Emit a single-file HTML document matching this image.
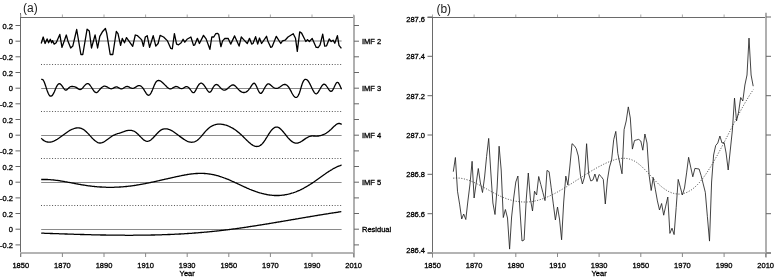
<!DOCTYPE html>
<html><head><meta charset="utf-8"><title>EMD decomposition</title>
<style>
html,body{margin:0;padding:0;background:#fff;}
body{width:774px;height:277px;overflow:hidden;}
svg{display:block;font-family:"Liberation Sans",sans-serif;will-change:transform;}
.lb{font-size:7.5px;fill:#000;stroke:#000;stroke-width:0.3px;}
.tt{font-size:12px;fill:#222;}
</style></head><body>
<svg width="774" height="277" viewBox="0 0 774 277">
<rect x="0" y="0" width="774" height="277" fill="#fff"/>
<g id="pa">
<line x1="20.5" y1="13" x2="20.5" y2="257" stroke="#6a6a6a" stroke-width="1"/>
<line x1="20" y1="17.5" x2="354.5" y2="17.5" stroke="#6a6a6a" stroke-width="1"/>
<line x1="20" y1="253" x2="354.5" y2="253" stroke="#b4b4b4" stroke-width="2"/>
<line x1="354" y1="15.2" x2="354" y2="257.5" stroke="#b0b0b0" stroke-width="2"/>
<line x1="20.8" y1="253" x2="20.8" y2="257" stroke="#888" stroke-width="1"/>
<line x1="20.8" y1="17" x2="20.8" y2="14.5" stroke="#aaa" stroke-width="1"/>
<text class="lb" x="20.8" y="268" text-anchor="middle">1850</text>
<line x1="62.4" y1="253" x2="62.4" y2="257" stroke="#888" stroke-width="1"/>
<line x1="62.4" y1="17" x2="62.4" y2="14.5" stroke="#aaa" stroke-width="1"/>
<text class="lb" x="62.4" y="268" text-anchor="middle">1870</text>
<line x1="104.0" y1="253" x2="104.0" y2="257" stroke="#888" stroke-width="1"/>
<line x1="104.0" y1="17" x2="104.0" y2="14.5" stroke="#aaa" stroke-width="1"/>
<text class="lb" x="104.0" y="268" text-anchor="middle">1890</text>
<line x1="145.6" y1="253" x2="145.6" y2="257" stroke="#888" stroke-width="1"/>
<line x1="145.6" y1="17" x2="145.6" y2="14.5" stroke="#aaa" stroke-width="1"/>
<text class="lb" x="145.6" y="268" text-anchor="middle">1910</text>
<line x1="187.2" y1="253" x2="187.2" y2="257" stroke="#888" stroke-width="1"/>
<line x1="187.2" y1="17" x2="187.2" y2="14.5" stroke="#aaa" stroke-width="1"/>
<text class="lb" x="187.2" y="268" text-anchor="middle">1930</text>
<line x1="228.8" y1="253" x2="228.8" y2="257" stroke="#888" stroke-width="1"/>
<line x1="228.8" y1="17" x2="228.8" y2="14.5" stroke="#aaa" stroke-width="1"/>
<text class="lb" x="228.8" y="268" text-anchor="middle">1950</text>
<line x1="270.4" y1="253" x2="270.4" y2="257" stroke="#888" stroke-width="1"/>
<line x1="270.4" y1="17" x2="270.4" y2="14.5" stroke="#aaa" stroke-width="1"/>
<text class="lb" x="270.4" y="268" text-anchor="middle">1970</text>
<line x1="312.0" y1="253" x2="312.0" y2="257" stroke="#888" stroke-width="1"/>
<line x1="312.0" y1="17" x2="312.0" y2="14.5" stroke="#aaa" stroke-width="1"/>
<text class="lb" x="312.0" y="268" text-anchor="middle">1990</text>
<line x1="353.6" y1="253" x2="353.6" y2="257" stroke="#888" stroke-width="1"/>
<line x1="353.6" y1="17" x2="353.6" y2="14.5" stroke="#aaa" stroke-width="1"/>
<text class="lb" x="353.6" y="268" text-anchor="middle">2010</text>
<text class="lb" x="187.2" y="276" text-anchor="middle">Year</text>
<line x1="15.5" y1="25.5" x2="20.5" y2="25.5" stroke="#666" stroke-width="1"/>
<line x1="354" y1="25.5" x2="359" y2="25.5" stroke="#666" stroke-width="1"/>
<text class="lb" x="13" y="28.6" text-anchor="end">0.2</text>
<line x1="15.5" y1="41.2" x2="20.5" y2="41.2" stroke="#666" stroke-width="1"/>
<line x1="354" y1="41.2" x2="359" y2="41.2" stroke="#666" stroke-width="1"/>
<text class="lb" x="13" y="44.3" text-anchor="end">0</text>
<line x1="15.5" y1="56.8" x2="20.5" y2="56.8" stroke="#666" stroke-width="1"/>
<line x1="354" y1="56.8" x2="359" y2="56.8" stroke="#666" stroke-width="1"/>
<text class="lb" x="13" y="59.9" text-anchor="end">-0.2</text>
<line x1="15.5" y1="72.5" x2="20.5" y2="72.5" stroke="#666" stroke-width="1"/>
<line x1="354" y1="72.5" x2="359" y2="72.5" stroke="#666" stroke-width="1"/>
<text class="lb" x="13" y="75.6" text-anchor="end">0.2</text>
<line x1="15.5" y1="88.2" x2="20.5" y2="88.2" stroke="#666" stroke-width="1"/>
<line x1="354" y1="88.2" x2="359" y2="88.2" stroke="#666" stroke-width="1"/>
<text class="lb" x="13" y="91.3" text-anchor="end">0</text>
<line x1="15.5" y1="103.8" x2="20.5" y2="103.8" stroke="#666" stroke-width="1"/>
<line x1="354" y1="103.8" x2="359" y2="103.8" stroke="#666" stroke-width="1"/>
<text class="lb" x="13" y="106.9" text-anchor="end">-0.2</text>
<line x1="15.5" y1="119.5" x2="20.5" y2="119.5" stroke="#666" stroke-width="1"/>
<line x1="354" y1="119.5" x2="359" y2="119.5" stroke="#666" stroke-width="1"/>
<text class="lb" x="13" y="122.6" text-anchor="end">0.2</text>
<line x1="15.5" y1="135.2" x2="20.5" y2="135.2" stroke="#666" stroke-width="1"/>
<line x1="354" y1="135.2" x2="359" y2="135.2" stroke="#666" stroke-width="1"/>
<text class="lb" x="13" y="138.3" text-anchor="end">0</text>
<line x1="15.5" y1="150.9" x2="20.5" y2="150.9" stroke="#666" stroke-width="1"/>
<line x1="354" y1="150.9" x2="359" y2="150.9" stroke="#666" stroke-width="1"/>
<text class="lb" x="13" y="154.0" text-anchor="end">-0.2</text>
<line x1="15.5" y1="166.5" x2="20.5" y2="166.5" stroke="#666" stroke-width="1"/>
<line x1="354" y1="166.5" x2="359" y2="166.5" stroke="#666" stroke-width="1"/>
<text class="lb" x="13" y="169.6" text-anchor="end">0.2</text>
<line x1="15.5" y1="182.2" x2="20.5" y2="182.2" stroke="#666" stroke-width="1"/>
<line x1="354" y1="182.2" x2="359" y2="182.2" stroke="#666" stroke-width="1"/>
<text class="lb" x="13" y="185.3" text-anchor="end">0</text>
<line x1="15.5" y1="197.9" x2="20.5" y2="197.9" stroke="#666" stroke-width="1"/>
<line x1="354" y1="197.9" x2="359" y2="197.9" stroke="#666" stroke-width="1"/>
<text class="lb" x="13" y="201.0" text-anchor="end">-0.2</text>
<line x1="15.5" y1="213.5" x2="20.5" y2="213.5" stroke="#666" stroke-width="1"/>
<line x1="354" y1="213.5" x2="359" y2="213.5" stroke="#666" stroke-width="1"/>
<text class="lb" x="13" y="216.6" text-anchor="end">0.2</text>
<line x1="15.5" y1="229.2" x2="20.5" y2="229.2" stroke="#666" stroke-width="1"/>
<line x1="354" y1="229.2" x2="359" y2="229.2" stroke="#666" stroke-width="1"/>
<text class="lb" x="13" y="232.3" text-anchor="end">0</text>
<line x1="15.5" y1="244.9" x2="20.5" y2="244.9" stroke="#666" stroke-width="1"/>
<line x1="354" y1="244.9" x2="359" y2="244.9" stroke="#666" stroke-width="1"/>
<text class="lb" x="13" y="248.0" text-anchor="end">-0.2</text>
<line x1="41.2" y1="41.0" x2="341.6" y2="41.0" stroke="#7a7a7a" stroke-width="1"/>
<text class="lb" x="362" y="43.9">IMF 2</text>
<line x1="41" y1="64.5" x2="342" y2="64.5" stroke="#555" stroke-width="1" stroke-dasharray="1 1.77"/>
<line x1="41.2" y1="88.5" x2="341.6" y2="88.5" stroke="#8a8a8a" stroke-width="1"/>
<text class="lb" x="362" y="90.9">IMF 3</text>
<line x1="41" y1="111.5" x2="342" y2="111.5" stroke="#555" stroke-width="1" stroke-dasharray="1 1.77"/>
<line x1="41.2" y1="135.5" x2="341.6" y2="135.5" stroke="#8a8a8a" stroke-width="1"/>
<text class="lb" x="362" y="137.9">IMF 4</text>
<line x1="41" y1="158.5" x2="342" y2="158.5" stroke="#555" stroke-width="1" stroke-dasharray="1 1.77"/>
<line x1="41.2" y1="182.5" x2="341.6" y2="182.5" stroke="#8a8a8a" stroke-width="1"/>
<text class="lb" x="362" y="184.9">IMF 5</text>
<line x1="41" y1="205.5" x2="342" y2="205.5" stroke="#555" stroke-width="1" stroke-dasharray="1 1.77"/>
<line x1="41.2" y1="229.5" x2="341.6" y2="229.5" stroke="#8a8a8a" stroke-width="1"/>
<text class="lb" x="362" y="231.9">Residual</text>
<polyline points="41.2,43.5 43.2,37.0 45.1,43.5 47.1,38.9 48.6,42.8 50.3,39.3 51.6,42.8 52.5,40.6 54.2,44.1 56.2,42.8 59.8,34.4 62.0,47.4 66.3,35.0 67.9,40.9 70.7,48.0 72.8,46.1 76.7,29.5 80.9,54.5 82.8,54.5 87.1,29.2 89.3,31.1 91.5,48.0 95.1,35.0 97.6,48.0 99.8,36.3 102.4,31.8 105.4,28.5 106.7,33.1 110.2,54.5 112.8,54.5 116.3,31.5 118.0,33.7 120.6,45.4 122.3,38.5 124.5,42.8 126.5,37.6 132.7,46.3 135.3,35.0 137.5,35.7 140.8,38.9 141.8,40.2 143.4,46.3 145.3,37.0 147.2,35.7 149.6,47.4 153.2,35.7 155.8,46.1 158.1,43.5 160.1,35.4 163.6,37.0 167.5,40.9 170.8,48.4 172.3,48.9 174.4,33.7 176.6,44.1 178.6,44.8 181.2,42.8 183.1,39.3 184.8,42.2 187.0,39.3 190.9,37.0 193.5,45.4 194.8,44.8 197.4,38.3 199.4,43.5 203.5,35.4 206.1,38.9 209.9,49.3 211.8,37.0 213.8,37.0 215.7,33.7 217.7,33.4 218.7,34.4 220.9,46.7 222.6,40.9 224.8,38.5 228.1,38.3 230.7,44.1 234.6,35.9 239.1,46.1 241.3,37.0 243.7,39.6 247.3,43.5 249.5,38.3 251.7,44.1 253.0,43.5 255.6,36.7 257.7,44.1 259.5,38.0 261.6,43.5 266.5,36.3 267.8,40.9 270.8,47.4 272.1,46.7 276.3,36.3 280.8,43.5 282.5,40.9 285.1,40.2 288.0,37.0 293.2,33.7 295.5,38.3 297.3,51.3 299.7,31.8 301.6,33.1 304.2,38.3 305.8,41.5 307.5,39.6 309.4,41.5 312.2,38.4 316.2,47.4 318.3,47.5 320.1,44.8 322.7,34.1 324.7,46.1 326.6,45.8 329.2,38.9 331.2,41.5 333.1,40.2 334.8,43.2 337.4,35.7 339.0,45.4 341.4,48.4" fill="none" stroke="#000" stroke-width="1.3" stroke-linejoin="round"/>
<polyline points="41.2,79.4 41.9,79.3 42.6,79.5 43.3,80.2 44.0,81.5 44.7,83.2 45.4,85.2 46.1,87.4 46.8,89.6 47.5,91.6 48.2,93.3 48.9,94.6 49.6,95.6 50.3,96.1 51.0,96.2 51.7,95.9 52.4,95.3 53.1,94.2 53.8,92.9 54.5,91.4 55.2,89.8 55.9,88.1 56.6,86.6 57.3,85.3 58.0,84.4 58.7,83.8 59.4,83.6 60.1,83.8 60.8,84.4 61.5,85.2 62.2,86.2 62.9,87.2 63.6,88.2 64.3,89.1 65.0,89.8 65.7,90.1 66.4,90.0 67.1,89.6 67.8,88.9 68.5,88.2 69.2,87.5 69.9,87.0 70.6,86.7 71.3,86.5 72.0,86.5 72.7,86.5 73.4,86.6 74.1,86.7 74.8,86.8 75.5,87.1 76.2,87.4 76.9,87.9 77.6,88.4 78.3,88.9 79.0,89.3 79.7,89.5 80.4,89.5 81.1,89.3 81.8,88.8 82.5,88.1 83.2,87.3 83.9,86.4 84.6,85.6 85.3,84.9 86.0,84.2 86.7,83.8 87.4,83.6 88.1,83.6 88.8,84.0 89.5,84.6 90.2,85.5 90.9,86.5 91.6,87.5 92.3,88.6 93.0,89.7 93.7,90.7 94.4,91.5 95.1,92.2 95.8,92.5 96.5,92.6 97.2,92.3 97.9,91.7 98.6,90.9 99.3,90.1 100.0,89.3 100.7,88.5 101.4,87.8 102.1,87.2 102.8,86.8 103.5,86.4 104.2,86.2 104.9,86.2 105.6,86.3 106.3,86.6 107.0,86.9 107.7,87.3 108.4,87.7 109.1,88.1 109.8,88.5 110.5,88.7 111.2,88.8 111.9,88.7 112.6,88.5 113.3,88.1 114.0,87.7 114.7,87.4 115.4,87.1 116.1,86.9 116.8,86.9 117.5,87.2 118.2,87.5 118.9,87.9 119.6,88.2 120.3,88.6 121.0,88.8 121.7,88.8 122.4,88.6 123.1,88.3 123.8,87.9 124.5,87.5 125.2,87.0 125.9,86.7 126.6,86.5 127.3,86.5 128.0,86.6 128.7,86.9 129.4,87.2 130.1,87.6 130.8,87.9 131.5,88.2 132.2,88.4 132.9,88.4 133.6,88.2 134.3,87.9 135.0,87.5 135.7,87.1 136.4,86.6 137.1,86.2 137.8,85.9 138.5,85.6 139.2,85.6 139.9,85.7 140.6,86.0 141.3,86.4 142.0,87.1 142.7,87.8 143.4,88.8 144.1,89.9 144.8,91.1 145.5,92.2 146.2,93.3 146.9,94.3 147.6,94.9 148.3,95.3 149.0,95.2 149.7,94.8 150.4,93.9 151.1,92.8 151.8,91.4 152.5,89.8 153.2,88.0 153.9,86.3 154.6,84.6 155.3,83.2 156.0,82.0 156.7,81.2 157.4,80.7 158.1,80.5 158.8,80.5 159.5,80.6 160.2,80.9 160.9,81.3 161.6,81.8 162.3,82.4 163.0,83.0 163.7,83.7 164.4,84.4 165.1,85.1 165.8,85.8 166.5,86.5 167.2,87.2 167.9,87.7 168.6,88.2 169.3,88.6 170.0,88.8 170.7,88.8 171.4,88.6 172.1,88.3 172.8,87.9 173.5,87.5 174.2,87.1 174.9,86.8 175.6,86.5 176.3,86.5 177.0,86.7 177.7,86.9 178.4,87.3 179.1,87.7 179.8,88.1 180.5,88.4 181.2,88.6 181.9,88.6 182.6,88.4 183.3,88.1 184.0,87.7 184.7,87.3 185.4,86.9 186.1,86.6 186.8,86.6 187.5,86.8 188.2,87.2 188.9,87.8 189.6,88.6 190.3,89.5 191.0,90.5 191.7,91.5 192.4,92.2 193.1,92.7 193.8,92.7 194.5,92.2 195.2,91.2 195.9,89.9 196.6,88.5 197.3,87.1 198.0,85.8 198.7,84.8 199.4,84.0 200.1,83.5 200.8,83.2 201.5,83.2 202.2,83.5 202.9,84.0 203.6,84.7 204.3,85.6 205.0,86.6 205.7,87.7 206.4,88.7 207.1,89.8 207.8,90.8 208.5,91.7 209.2,92.2 209.9,92.3 210.6,91.8 211.3,90.8 212.0,89.6 212.7,88.2 213.4,87.0 214.1,86.0 214.8,85.2 215.5,84.7 216.2,84.5 216.9,84.6 217.6,84.9 218.3,85.4 219.0,86.1 219.7,86.9 220.4,87.7 221.1,88.4 221.8,89.0 222.5,89.5 223.2,89.9 223.9,90.1 224.6,90.1 225.3,90.0 226.0,89.7 226.7,89.2 227.4,88.7 228.1,88.1 228.8,87.5 229.5,86.8 230.2,86.2 230.9,85.7 231.6,85.2 232.3,85.0 233.0,84.9 233.7,85.0 234.4,85.4 235.1,85.9 235.8,86.6 236.5,87.3 237.2,88.1 237.9,88.9 238.6,89.6 239.3,90.3 240.0,90.9 240.7,91.4 241.4,91.9 242.1,92.2 242.8,92.4 243.5,92.5 244.2,92.5 244.9,92.4 245.6,92.2 246.3,91.9 247.0,91.4 247.7,90.8 248.4,90.1 249.1,89.2 249.8,88.3 250.5,87.3 251.2,86.2 251.9,85.2 252.6,84.2 253.3,83.5 254.0,83.2 254.7,83.4 255.4,84.3 256.1,85.5 256.8,87.0 257.5,88.7 258.2,90.2 258.9,91.6 259.6,92.7 260.3,93.3 261.0,93.4 261.7,92.9 262.4,92.0 263.1,90.8 263.8,89.5 264.5,88.2 265.2,87.0 265.9,85.9 266.6,85.0 267.3,84.3 268.0,83.9 268.7,83.9 269.4,84.1 270.1,84.6 270.8,85.2 271.5,85.8 272.2,86.4 272.9,87.0 273.6,87.5 274.3,87.9 275.0,88.2 275.7,88.3 276.4,88.4 277.1,88.3 277.8,88.1 278.5,87.8 279.2,87.4 279.9,87.0 280.6,86.5 281.3,86.0 282.0,85.5 282.7,85.0 283.4,84.7 284.1,84.5 284.8,84.4 285.5,84.5 286.2,84.8 286.9,85.2 287.6,85.9 288.3,86.7 289.0,87.7 289.7,88.9 290.4,90.1 291.1,91.4 291.8,92.8 292.5,94.0 293.2,95.1 293.9,96.1 294.6,96.9 295.3,97.3 296.0,97.5 296.7,97.3 297.4,96.7 298.1,95.8 298.8,94.4 299.5,92.7 300.2,90.5 300.9,88.1 301.6,85.7 302.3,83.6 303.0,81.9 303.7,80.7 304.4,79.8 305.1,79.4 305.8,79.3 306.5,79.5 307.2,80.0 307.9,80.7 308.6,81.7 309.3,82.8 310.0,84.1 310.7,85.5 311.4,87.0 312.1,88.5 312.8,89.9 313.5,91.2 314.2,92.3 314.9,93.2 315.6,93.7 316.3,93.8 317.0,93.5 317.7,92.8 318.4,91.9 319.1,90.7 319.8,89.5 320.5,88.2 321.2,87.0 321.9,85.9 322.6,85.0 323.3,84.4 324.0,84.2 324.7,84.4 325.4,84.8 326.1,85.5 326.8,86.5 327.5,87.5 328.2,88.6 328.9,89.7 329.6,90.6 330.3,91.2 331.0,91.5 331.7,91.2 332.4,90.5 333.1,89.4 333.8,88.0 334.5,86.5 335.2,85.0 335.9,83.7 336.6,82.7 337.3,82.3 338.0,82.5 338.7,83.3 339.4,84.5 340.1,85.9 340.8,87.4 341.5,89.0 341.6,89.2" fill="none" stroke="#000" stroke-width="1.3" stroke-linejoin="round"/>
<polyline points="41.2,138.2 41.9,138.9 42.6,139.6 43.3,140.1 44.0,140.6 44.7,141.0 45.4,141.4 46.1,141.7 46.8,141.9 47.5,142.0 48.2,142.1 48.9,142.2 49.6,142.1 50.3,142.1 51.0,142.0 51.7,141.8 52.4,141.6 53.1,141.3 53.8,141.1 54.5,140.7 55.2,140.4 55.9,140.0 56.6,139.6 57.3,139.2 58.0,138.7 58.7,138.3 59.4,137.8 60.1,137.3 60.8,136.8 61.5,136.3 62.2,135.7 62.9,135.2 63.6,134.7 64.3,134.2 65.0,133.7 65.7,133.2 66.4,132.7 67.1,132.2 67.8,131.7 68.5,131.3 69.2,130.8 69.9,130.4 70.6,130.0 71.3,129.7 72.0,129.3 72.7,129.0 73.4,128.8 74.1,128.5 74.8,128.3 75.5,128.1 76.2,128.0 76.9,127.9 77.6,127.9 78.3,127.9 79.0,127.9 79.7,128.0 80.4,128.2 81.1,128.4 81.8,128.7 82.5,129.0 83.2,129.4 83.9,129.8 84.6,130.3 85.3,130.9 86.0,131.5 86.7,132.2 87.4,132.9 88.1,133.6 88.8,134.3 89.5,135.1 90.2,135.9 90.9,136.6 91.6,137.4 92.3,138.2 93.0,138.9 93.7,139.6 94.4,140.2 95.1,140.8 95.8,141.3 96.5,141.8 97.2,142.2 97.9,142.6 98.6,142.8 99.3,143.0 100.0,143.0 100.7,143.0 101.4,142.8 102.1,142.7 102.8,142.4 103.5,142.1 104.2,141.7 104.9,141.3 105.6,140.8 106.3,140.3 107.0,139.8 107.7,139.3 108.4,138.7 109.1,138.2 109.8,137.7 110.5,137.1 111.2,136.7 111.9,136.2 112.6,135.8 113.3,135.4 114.0,135.1 114.7,134.8 115.4,134.5 116.1,134.2 116.8,134.0 117.5,133.7 118.2,133.5 118.9,133.3 119.6,133.1 120.3,132.8 121.0,132.6 121.7,132.3 122.4,132.1 123.1,131.8 123.8,131.6 124.5,131.3 125.2,131.1 125.9,130.9 126.6,130.7 127.3,130.6 128.0,130.4 128.7,130.3 129.4,130.3 130.1,130.3 130.8,130.3 131.5,130.4 132.2,130.6 132.9,130.8 133.6,131.0 134.3,131.3 135.0,131.7 135.7,132.2 136.4,132.8 137.1,133.4 137.8,134.0 138.5,134.7 139.2,135.4 139.9,136.2 140.6,136.9 141.3,137.6 142.0,138.3 142.7,139.0 143.4,139.6 144.1,140.1 144.8,140.5 145.5,140.9 146.2,141.2 146.9,141.3 147.6,141.3 148.3,141.2 149.0,141.0 149.7,140.6 150.4,140.2 151.1,139.7 151.8,139.1 152.5,138.5 153.2,137.8 153.9,137.0 154.6,136.3 155.3,135.5 156.0,134.7 156.7,133.9 157.4,133.2 158.1,132.5 158.8,131.8 159.5,131.2 160.2,130.6 160.9,130.1 161.6,129.7 162.3,129.4 163.0,129.1 163.7,129.0 164.4,128.8 165.1,128.8 165.8,128.8 166.5,128.8 167.2,128.9 167.9,129.1 168.6,129.3 169.3,129.5 170.0,129.8 170.7,130.1 171.4,130.5 172.1,130.9 172.8,131.3 173.5,131.7 174.2,132.2 174.9,132.7 175.6,133.2 176.3,133.7 177.0,134.2 177.7,134.8 178.4,135.3 179.1,135.8 179.8,136.4 180.5,136.9 181.2,137.4 181.9,137.9 182.6,138.4 183.3,138.9 184.0,139.4 184.7,139.8 185.4,140.2 186.1,140.6 186.8,141.0 187.5,141.3 188.2,141.6 188.9,141.8 189.6,142.0 190.3,142.1 191.0,142.2 191.7,142.3 192.4,142.2 193.1,142.2 193.8,142.0 194.5,141.8 195.2,141.5 195.9,141.2 196.6,140.8 197.3,140.3 198.0,139.7 198.7,139.1 199.4,138.4 200.1,137.6 200.8,136.9 201.5,136.1 202.2,135.3 202.9,134.4 203.6,133.6 204.3,132.8 205.0,131.9 205.7,131.1 206.4,130.4 207.1,129.7 207.8,129.0 208.5,128.4 209.2,127.8 209.9,127.3 210.6,126.8 211.3,126.4 212.0,126.0 212.7,125.6 213.4,125.3 214.1,125.0 214.8,124.8 215.5,124.6 216.2,124.4 216.9,124.3 217.6,124.2 218.3,124.2 219.0,124.1 219.7,124.1 220.4,124.1 221.1,124.2 221.8,124.3 222.5,124.4 223.2,124.5 223.9,124.6 224.6,124.8 225.3,125.0 226.0,125.2 226.7,125.4 227.4,125.7 228.1,126.0 228.8,126.2 229.5,126.6 230.2,126.9 230.9,127.3 231.6,127.6 232.3,128.0 233.0,128.4 233.7,128.9 234.4,129.3 235.1,129.8 235.8,130.3 236.5,130.8 237.2,131.4 237.9,131.9 238.6,132.5 239.3,133.1 240.0,133.7 240.7,134.3 241.4,134.9 242.1,135.6 242.8,136.3 243.5,137.0 244.2,137.7 244.9,138.4 245.6,139.1 246.3,139.8 247.0,140.5 247.7,141.1 248.4,141.8 249.1,142.4 249.8,143.0 250.5,143.6 251.2,144.2 251.9,144.6 252.6,145.1 253.3,145.5 254.0,145.8 254.7,146.1 255.4,146.3 256.1,146.4 256.8,146.5 257.5,146.4 258.2,146.3 258.9,146.1 259.6,145.8 260.3,145.4 261.0,144.9 261.7,144.3 262.4,143.6 263.1,142.8 263.8,141.8 264.5,140.8 265.2,139.8 265.9,138.7 266.6,137.6 267.3,136.5 268.0,135.3 268.7,134.2 269.4,133.1 270.1,132.1 270.8,131.1 271.5,130.2 272.2,129.4 272.9,128.8 273.6,128.2 274.3,127.7 275.0,127.4 275.7,127.2 276.4,127.1 277.1,127.1 277.8,127.2 278.5,127.5 279.2,127.9 279.9,128.4 280.6,129.0 281.3,129.7 282.0,130.4 282.7,131.2 283.4,132.0 284.1,132.9 284.8,133.7 285.5,134.6 286.2,135.5 286.9,136.4 287.6,137.3 288.3,138.1 289.0,138.8 289.7,139.6 290.4,140.2 291.1,140.9 291.8,141.4 292.5,141.9 293.2,142.3 293.9,142.7 294.6,142.9 295.3,143.1 296.0,143.2 296.7,143.2 297.4,143.1 298.1,143.0 298.8,142.7 299.5,142.5 300.2,142.1 300.9,141.7 301.6,141.3 302.3,140.9 303.0,140.4 303.7,139.9 304.4,139.4 305.1,138.9 305.8,138.4 306.5,138.0 307.2,137.6 307.9,137.2 308.6,136.8 309.3,136.5 310.0,136.3 310.7,136.1 311.4,136.0 312.1,135.9 312.8,135.9 313.5,136.0 314.2,136.0 314.9,136.0 315.6,136.1 316.3,136.1 317.0,136.1 317.7,136.0 318.4,136.0 319.1,135.9 319.8,135.7 320.5,135.6 321.2,135.4 321.9,135.2 322.6,134.9 323.3,134.6 324.0,134.3 324.7,134.0 325.4,133.6 326.1,133.2 326.8,132.7 327.5,132.3 328.2,131.7 328.9,131.2 329.6,130.6 330.3,130.0 331.0,129.4 331.7,128.7 332.4,128.0 333.1,127.3 333.8,126.6 334.5,126.0 335.2,125.4 335.9,124.8 336.6,124.3 337.3,123.9 338.0,123.6 338.7,123.5 339.4,123.4 340.1,123.6 340.8,123.9 341.5,124.4 341.6,124.4" fill="none" stroke="#000" stroke-width="1.3" stroke-linejoin="round"/>
<polyline points="41.2,179.5 41.9,179.5 42.6,179.5 43.3,179.5 44.0,179.5 44.7,179.5 45.4,179.5 46.1,179.5 46.8,179.5 47.5,179.5 48.2,179.6 48.9,179.6 49.6,179.7 50.3,179.7 51.0,179.8 51.7,179.8 52.4,179.9 53.1,179.9 53.8,180.0 54.5,180.1 55.2,180.2 55.9,180.3 56.6,180.4 57.3,180.4 58.0,180.5 58.7,180.6 59.4,180.7 60.1,180.9 60.8,181.0 61.5,181.1 62.2,181.2 62.9,181.3 63.6,181.4 64.3,181.5 65.0,181.7 65.7,181.8 66.4,181.9 67.1,182.0 67.8,182.2 68.5,182.3 69.2,182.4 69.9,182.6 70.6,182.7 71.3,182.8 72.0,183.0 72.7,183.1 73.4,183.2 74.1,183.4 74.8,183.5 75.5,183.6 76.2,183.8 76.9,183.9 77.6,184.0 78.3,184.1 79.0,184.3 79.7,184.4 80.4,184.5 81.1,184.6 81.8,184.8 82.5,184.9 83.2,185.0 83.9,185.1 84.6,185.2 85.3,185.3 86.0,185.4 86.7,185.6 87.4,185.7 88.1,185.8 88.8,185.8 89.5,185.9 90.2,186.0 90.9,186.1 91.6,186.2 92.3,186.3 93.0,186.4 93.7,186.4 94.4,186.5 95.1,186.6 95.8,186.6 96.5,186.7 97.2,186.8 97.9,186.8 98.6,186.9 99.3,186.9 100.0,187.0 100.7,187.0 101.4,187.0 102.1,187.1 102.8,187.1 103.5,187.2 104.2,187.2 104.9,187.2 105.6,187.2 106.3,187.3 107.0,187.3 107.7,187.3 108.4,187.3 109.1,187.3 109.8,187.3 110.5,187.3 111.2,187.3 111.9,187.3 112.6,187.3 113.3,187.3 114.0,187.3 114.7,187.2 115.4,187.2 116.1,187.2 116.8,187.2 117.5,187.1 118.2,187.1 118.9,187.1 119.6,187.0 120.3,187.0 121.0,186.9 121.7,186.9 122.4,186.8 123.1,186.8 123.8,186.7 124.5,186.7 125.2,186.6 125.9,186.5 126.6,186.5 127.3,186.4 128.0,186.3 128.7,186.2 129.4,186.1 130.1,186.1 130.8,186.0 131.5,185.9 132.2,185.8 132.9,185.7 133.6,185.6 134.3,185.5 135.0,185.4 135.7,185.3 136.4,185.1 137.1,185.0 137.8,184.9 138.5,184.8 139.2,184.7 139.9,184.6 140.6,184.4 141.3,184.3 142.0,184.2 142.7,184.1 143.4,183.9 144.1,183.8 144.8,183.7 145.5,183.5 146.2,183.4 146.9,183.2 147.6,183.1 148.3,183.0 149.0,182.8 149.7,182.7 150.4,182.5 151.1,182.4 151.8,182.2 152.5,182.1 153.2,181.9 153.9,181.8 154.6,181.6 155.3,181.5 156.0,181.3 156.7,181.1 157.4,181.0 158.1,180.8 158.8,180.7 159.5,180.5 160.2,180.4 160.9,180.2 161.6,180.0 162.3,179.9 163.0,179.7 163.7,179.6 164.4,179.4 165.1,179.2 165.8,179.1 166.5,178.9 167.2,178.8 167.9,178.6 168.6,178.4 169.3,178.3 170.0,178.1 170.7,178.0 171.4,177.8 172.1,177.6 172.8,177.5 173.5,177.3 174.2,177.2 174.9,177.0 175.6,176.9 176.3,176.7 177.0,176.6 177.7,176.4 178.4,176.3 179.1,176.1 179.8,176.0 180.5,175.8 181.2,175.7 181.9,175.5 182.6,175.4 183.3,175.3 184.0,175.1 184.7,175.0 185.4,174.9 186.1,174.8 186.8,174.6 187.5,174.5 188.2,174.4 188.9,174.3 189.6,174.2 190.3,174.1 191.0,174.0 191.7,173.9 192.4,173.9 193.1,173.8 193.8,173.7 194.5,173.7 195.2,173.6 195.9,173.5 196.6,173.5 197.3,173.5 198.0,173.4 198.7,173.4 199.4,173.4 200.1,173.4 200.8,173.4 201.5,173.4 202.2,173.4 202.9,173.4 203.6,173.4 204.3,173.5 205.0,173.5 205.7,173.6 206.4,173.6 207.1,173.7 207.8,173.8 208.5,173.9 209.2,174.0 209.9,174.1 210.6,174.2 211.3,174.3 212.0,174.4 212.7,174.6 213.4,174.7 214.1,174.9 214.8,175.0 215.5,175.2 216.2,175.4 216.9,175.6 217.6,175.7 218.3,175.9 219.0,176.1 219.7,176.4 220.4,176.6 221.1,176.8 221.8,177.0 222.5,177.3 223.2,177.5 223.9,177.8 224.6,178.0 225.3,178.3 226.0,178.6 226.7,178.9 227.4,179.1 228.1,179.4 228.8,179.7 229.5,180.0 230.2,180.3 230.9,180.6 231.6,181.0 232.3,181.3 233.0,181.6 233.7,181.9 234.4,182.2 235.1,182.6 235.8,182.9 236.5,183.2 237.2,183.5 237.9,183.9 238.6,184.2 239.3,184.5 240.0,184.8 240.7,185.2 241.4,185.5 242.1,185.8 242.8,186.2 243.5,186.5 244.2,186.8 244.9,187.1 245.6,187.4 246.3,187.7 247.0,188.1 247.7,188.4 248.4,188.7 249.1,189.0 249.8,189.3 250.5,189.5 251.2,189.8 251.9,190.1 252.6,190.4 253.3,190.6 254.0,190.9 254.7,191.2 255.4,191.4 256.1,191.7 256.8,191.9 257.5,192.1 258.2,192.4 258.9,192.6 259.6,192.8 260.3,193.0 261.0,193.2 261.7,193.4 262.4,193.6 263.1,193.7 263.8,193.9 264.5,194.1 265.2,194.2 265.9,194.4 266.6,194.5 267.3,194.6 268.0,194.8 268.7,194.9 269.4,195.0 270.1,195.1 270.8,195.2 271.5,195.2 272.2,195.3 272.9,195.4 273.6,195.4 274.3,195.5 275.0,195.5 275.7,195.5 276.4,195.5 277.1,195.5 277.8,195.5 278.5,195.5 279.2,195.5 279.9,195.4 280.6,195.4 281.3,195.3 282.0,195.2 282.7,195.2 283.4,195.1 284.1,195.0 284.8,194.9 285.5,194.7 286.2,194.6 286.9,194.5 287.6,194.3 288.3,194.2 289.0,194.0 289.7,193.8 290.4,193.6 291.1,193.4 291.8,193.2 292.5,193.0 293.2,192.8 293.9,192.5 294.6,192.3 295.3,192.0 296.0,191.8 296.7,191.5 297.4,191.2 298.1,190.9 298.8,190.6 299.5,190.3 300.2,190.0 300.9,189.6 301.6,189.3 302.3,188.9 303.0,188.6 303.7,188.2 304.4,187.8 305.1,187.4 305.8,187.0 306.5,186.6 307.2,186.2 307.9,185.8 308.6,185.4 309.3,184.9 310.0,184.5 310.7,184.0 311.4,183.6 312.1,183.1 312.8,182.6 313.5,182.2 314.2,181.7 314.9,181.2 315.6,180.7 316.3,180.2 317.0,179.7 317.7,179.2 318.4,178.7 319.1,178.2 319.8,177.7 320.5,177.2 321.2,176.7 321.9,176.2 322.6,175.7 323.3,175.2 324.0,174.7 324.7,174.3 325.4,173.8 326.1,173.3 326.8,172.8 327.5,172.3 328.2,171.9 328.9,171.4 329.6,171.0 330.3,170.5 331.0,170.1 331.7,169.7 332.4,169.2 333.1,168.8 333.8,168.4 334.5,168.1 335.2,167.7 335.9,167.4 336.6,167.0 337.3,166.7 338.0,166.4 338.7,166.1 339.4,165.8 340.1,165.6 340.8,165.3 341.5,165.1 341.6,165.1" fill="none" stroke="#000" stroke-width="1.3" stroke-linejoin="round"/>
<polyline points="41.2,233.1 41.9,233.2 42.6,233.2 43.3,233.2 44.0,233.2 44.7,233.3 45.4,233.3 46.1,233.3 46.8,233.3 47.5,233.4 48.2,233.4 48.9,233.4 49.6,233.4 50.3,233.5 51.0,233.5 51.7,233.5 52.4,233.5 53.1,233.6 53.8,233.6 54.5,233.6 55.2,233.6 55.9,233.7 56.6,233.7 57.3,233.7 58.0,233.7 58.7,233.7 59.4,233.8 60.1,233.8 60.8,233.8 61.5,233.8 62.2,233.9 62.9,233.9 63.6,233.9 64.3,233.9 65.0,234.0 65.7,234.0 66.4,234.0 67.1,234.0 67.8,234.1 68.5,234.1 69.2,234.1 69.9,234.1 70.6,234.1 71.3,234.2 72.0,234.2 72.7,234.2 73.4,234.2 74.1,234.3 74.8,234.3 75.5,234.3 76.2,234.3 76.9,234.3 77.6,234.4 78.3,234.4 79.0,234.4 79.7,234.4 80.4,234.5 81.1,234.5 81.8,234.5 82.5,234.5 83.2,234.5 83.9,234.5 84.6,234.6 85.3,234.6 86.0,234.6 86.7,234.6 87.4,234.6 88.1,234.7 88.8,234.7 89.5,234.7 90.2,234.7 90.9,234.7 91.6,234.8 92.3,234.8 93.0,234.8 93.7,234.8 94.4,234.8 95.1,234.8 95.8,234.9 96.5,234.9 97.2,234.9 97.9,234.9 98.6,234.9 99.3,234.9 100.0,234.9 100.7,235.0 101.4,235.0 102.1,235.0 102.8,235.0 103.5,235.0 104.2,235.0 104.9,235.0 105.6,235.0 106.3,235.1 107.0,235.1 107.7,235.1 108.4,235.1 109.1,235.1 109.8,235.1 110.5,235.1 111.2,235.1 111.9,235.1 112.6,235.1 113.3,235.2 114.0,235.2 114.7,235.2 115.4,235.2 116.1,235.2 116.8,235.2 117.5,235.2 118.2,235.2 118.9,235.2 119.6,235.2 120.3,235.2 121.0,235.2 121.7,235.2 122.4,235.2 123.1,235.2 123.8,235.2 124.5,235.2 125.2,235.3 125.9,235.3 126.6,235.3 127.3,235.3 128.0,235.3 128.7,235.3 129.4,235.3 130.1,235.3 130.8,235.3 131.5,235.3 132.2,235.3 132.9,235.3 133.6,235.2 134.3,235.2 135.0,235.2 135.7,235.2 136.4,235.2 137.1,235.2 137.8,235.2 138.5,235.2 139.2,235.2 139.9,235.2 140.6,235.2 141.3,235.2 142.0,235.2 142.7,235.2 143.4,235.2 144.1,235.2 144.8,235.2 145.5,235.1 146.2,235.1 146.9,235.1 147.6,235.1 148.3,235.1 149.0,235.1 149.7,235.1 150.4,235.1 151.1,235.0 151.8,235.0 152.5,235.0 153.2,235.0 153.9,235.0 154.6,235.0 155.3,234.9 156.0,234.9 156.7,234.9 157.4,234.9 158.1,234.9 158.8,234.9 159.5,234.8 160.2,234.8 160.9,234.8 161.6,234.8 162.3,234.7 163.0,234.7 163.7,234.7 164.4,234.7 165.1,234.7 165.8,234.6 166.5,234.6 167.2,234.6 167.9,234.5 168.6,234.5 169.3,234.5 170.0,234.5 170.7,234.4 171.4,234.4 172.1,234.4 172.8,234.3 173.5,234.3 174.2,234.3 174.9,234.2 175.6,234.2 176.3,234.2 177.0,234.1 177.7,234.1 178.4,234.1 179.1,234.0 179.8,234.0 180.5,234.0 181.2,233.9 181.9,233.9 182.6,233.8 183.3,233.8 184.0,233.8 184.7,233.7 185.4,233.7 186.1,233.6 186.8,233.6 187.5,233.5 188.2,233.5 188.9,233.4 189.6,233.4 190.3,233.3 191.0,233.3 191.7,233.3 192.4,233.2 193.1,233.2 193.8,233.1 194.5,233.0 195.2,233.0 195.9,232.9 196.6,232.9 197.3,232.8 198.0,232.8 198.7,232.7 199.4,232.7 200.1,232.6 200.8,232.5 201.5,232.5 202.2,232.4 202.9,232.4 203.6,232.3 204.3,232.2 205.0,232.2 205.7,232.1 206.4,232.1 207.1,232.0 207.8,231.9 208.5,231.9 209.2,231.8 209.9,231.7 210.6,231.7 211.3,231.6 212.0,231.5 212.7,231.4 213.4,231.4 214.1,231.3 214.8,231.2 215.5,231.1 216.2,231.1 216.9,231.0 217.6,230.9 218.3,230.8 219.0,230.8 219.7,230.7 220.4,230.6 221.1,230.5 221.8,230.4 222.5,230.4 223.2,230.3 223.9,230.2 224.6,230.1 225.3,230.0 226.0,229.9 226.7,229.8 227.4,229.8 228.1,229.7 228.8,229.6 229.5,229.5 230.2,229.4 230.9,229.3 231.6,229.2 232.3,229.1 233.0,229.0 233.7,228.9 234.4,228.8 235.1,228.8 235.8,228.7 236.5,228.6 237.2,228.5 237.9,228.4 238.6,228.3 239.3,228.2 240.0,228.1 240.7,228.0 241.4,227.9 242.1,227.8 242.8,227.7 243.5,227.6 244.2,227.5 244.9,227.4 245.6,227.3 246.3,227.2 247.0,227.1 247.7,227.0 248.4,226.9 249.1,226.7 249.8,226.6 250.5,226.5 251.2,226.4 251.9,226.3 252.6,226.2 253.3,226.1 254.0,226.0 254.7,225.9 255.4,225.8 256.1,225.7 256.8,225.6 257.5,225.4 258.2,225.3 258.9,225.2 259.6,225.1 260.3,225.0 261.0,224.9 261.7,224.8 262.4,224.7 263.1,224.6 263.8,224.4 264.5,224.3 265.2,224.2 265.9,224.1 266.6,224.0 267.3,223.9 268.0,223.8 268.7,223.6 269.4,223.5 270.1,223.4 270.8,223.3 271.5,223.2 272.2,223.1 272.9,222.9 273.6,222.8 274.3,222.7 275.0,222.6 275.7,222.5 276.4,222.4 277.1,222.2 277.8,222.1 278.5,222.0 279.2,221.9 279.9,221.8 280.6,221.6 281.3,221.5 282.0,221.4 282.7,221.3 283.4,221.2 284.1,221.1 284.8,220.9 285.5,220.8 286.2,220.7 286.9,220.6 287.6,220.5 288.3,220.3 289.0,220.2 289.7,220.1 290.4,220.0 291.1,219.9 291.8,219.7 292.5,219.6 293.2,219.5 293.9,219.4 294.6,219.3 295.3,219.1 296.0,219.0 296.7,218.9 297.4,218.8 298.1,218.7 298.8,218.5 299.5,218.4 300.2,218.3 300.9,218.2 301.6,218.1 302.3,217.9 303.0,217.8 303.7,217.7 304.4,217.6 305.1,217.5 305.8,217.3 306.5,217.2 307.2,217.1 307.9,217.0 308.6,216.9 309.3,216.8 310.0,216.6 310.7,216.5 311.4,216.4 312.1,216.3 312.8,216.2 313.5,216.1 314.2,215.9 314.9,215.8 315.6,215.7 316.3,215.6 317.0,215.5 317.7,215.4 318.4,215.2 319.1,215.1 319.8,215.0 320.5,214.9 321.2,214.8 321.9,214.7 322.6,214.6 323.3,214.4 324.0,214.3 324.7,214.2 325.4,214.1 326.1,214.0 326.8,213.9 327.5,213.8 328.2,213.7 328.9,213.5 329.6,213.4 330.3,213.3 331.0,213.2 331.7,213.1 332.4,213.0 333.1,212.9 333.8,212.8 334.5,212.7 335.2,212.6 335.9,212.5 336.6,212.4 337.3,212.3 338.0,212.1 338.7,212.0 339.4,211.9 340.1,211.8 340.8,211.7 341.3,211.7" fill="none" stroke="#000" stroke-width="1.3" stroke-linejoin="round"/>
<text class="tt" x="23" y="11.6">(a)</text>
</g>
<g id="pb">
<line x1="432.5" y1="15" x2="432.5" y2="257.5" stroke="#6a6a6a" stroke-width="1"/>
<line x1="427.5" y1="17.5" x2="766.5" y2="17.5" stroke="#6a6a6a" stroke-width="1"/>
<line x1="427.5" y1="253" x2="771" y2="253" stroke="#b4b4b4" stroke-width="2"/>
<line x1="766" y1="12.7" x2="766" y2="257.5" stroke="#b0b0b0" stroke-width="2"/>
<line x1="432.5" y1="253" x2="432.5" y2="257" stroke="#888" stroke-width="1"/>
<line x1="432.5" y1="17" x2="432.5" y2="14.5" stroke="#aaa" stroke-width="1"/>
<text class="lb" x="432.5" y="268" text-anchor="middle">1850</text>
<line x1="474.1" y1="253" x2="474.1" y2="257" stroke="#888" stroke-width="1"/>
<line x1="474.1" y1="17" x2="474.1" y2="14.5" stroke="#aaa" stroke-width="1"/>
<text class="lb" x="474.1" y="268" text-anchor="middle">1870</text>
<line x1="515.8" y1="253" x2="515.8" y2="257" stroke="#888" stroke-width="1"/>
<line x1="515.8" y1="17" x2="515.8" y2="14.5" stroke="#aaa" stroke-width="1"/>
<text class="lb" x="515.8" y="268" text-anchor="middle">1890</text>
<line x1="557.5" y1="253" x2="557.5" y2="257" stroke="#888" stroke-width="1"/>
<line x1="557.5" y1="17" x2="557.5" y2="14.5" stroke="#aaa" stroke-width="1"/>
<text class="lb" x="557.5" y="268" text-anchor="middle">1910</text>
<line x1="599.1" y1="253" x2="599.1" y2="257" stroke="#888" stroke-width="1"/>
<line x1="599.1" y1="17" x2="599.1" y2="14.5" stroke="#aaa" stroke-width="1"/>
<text class="lb" x="599.1" y="268" text-anchor="middle">1930</text>
<line x1="640.8" y1="253" x2="640.8" y2="257" stroke="#888" stroke-width="1"/>
<line x1="640.8" y1="17" x2="640.8" y2="14.5" stroke="#aaa" stroke-width="1"/>
<text class="lb" x="640.8" y="268" text-anchor="middle">1950</text>
<line x1="682.4" y1="253" x2="682.4" y2="257" stroke="#888" stroke-width="1"/>
<line x1="682.4" y1="17" x2="682.4" y2="14.5" stroke="#aaa" stroke-width="1"/>
<text class="lb" x="682.4" y="268" text-anchor="middle">1970</text>
<line x1="724.1" y1="253" x2="724.1" y2="257" stroke="#888" stroke-width="1"/>
<line x1="724.1" y1="17" x2="724.1" y2="14.5" stroke="#aaa" stroke-width="1"/>
<text class="lb" x="724.1" y="268" text-anchor="middle">1990</text>
<line x1="765.7" y1="253" x2="765.7" y2="257" stroke="#888" stroke-width="1"/>
<line x1="765.7" y1="17" x2="765.7" y2="14.5" stroke="#aaa" stroke-width="1"/>
<text class="lb" x="765.7" y="268" text-anchor="middle">2010</text>
<text class="lb" x="599.1" y="276" text-anchor="middle">Year</text>
<line x1="427.5" y1="17.0" x2="432.5" y2="17.0" stroke="#666" stroke-width="1"/>
<line x1="766" y1="17.0" x2="771" y2="17.0" stroke="#666" stroke-width="1"/>
<text class="lb" x="425" y="22.3" text-anchor="end">287.6</text>
<line x1="427.5" y1="56.3" x2="432.5" y2="56.3" stroke="#666" stroke-width="1"/>
<line x1="766" y1="56.3" x2="771" y2="56.3" stroke="#666" stroke-width="1"/>
<text class="lb" x="425" y="59.4" text-anchor="end">287.4</text>
<line x1="427.5" y1="95.7" x2="432.5" y2="95.7" stroke="#666" stroke-width="1"/>
<line x1="766" y1="95.7" x2="771" y2="95.7" stroke="#666" stroke-width="1"/>
<text class="lb" x="425" y="98.8" text-anchor="end">287.2</text>
<line x1="427.5" y1="135.0" x2="432.5" y2="135.0" stroke="#666" stroke-width="1"/>
<line x1="766" y1="135.0" x2="771" y2="135.0" stroke="#666" stroke-width="1"/>
<text class="lb" x="425" y="138.1" text-anchor="end">287.0</text>
<line x1="427.5" y1="174.3" x2="432.5" y2="174.3" stroke="#666" stroke-width="1"/>
<line x1="766" y1="174.3" x2="771" y2="174.3" stroke="#666" stroke-width="1"/>
<text class="lb" x="425" y="177.4" text-anchor="end">286.8</text>
<line x1="427.5" y1="213.7" x2="432.5" y2="213.7" stroke="#666" stroke-width="1"/>
<line x1="766" y1="213.7" x2="771" y2="213.7" stroke="#666" stroke-width="1"/>
<text class="lb" x="425" y="216.8" text-anchor="end">286.6</text>
<line x1="427.5" y1="253.0" x2="432.5" y2="253.0" stroke="#666" stroke-width="1"/>
<line x1="766" y1="253.0" x2="771" y2="253.0" stroke="#666" stroke-width="1"/>
<text class="lb" x="425" y="253.3" text-anchor="end">286.4</text>
<polyline points="453.2,178.2 453.9,178.1 454.6,178.1 455.3,178.0 456.0,178.0 456.7,178.0 457.4,178.0 458.1,178.0 458.8,178.1 459.5,178.1 460.2,178.2 460.9,178.3 461.6,178.4 462.3,178.5 463.0,178.7 463.7,178.8 464.4,179.0 465.1,179.2 465.8,179.4 466.5,179.6 467.2,179.8 467.9,180.0 468.6,180.2 469.3,180.5 470.0,180.8 470.7,181.0 471.4,181.3 472.1,181.6 472.8,181.9 473.5,182.2 474.2,182.5 474.9,182.8 475.6,183.1 476.3,183.5 477.0,183.8 477.7,184.2 478.4,184.5 479.1,184.9 479.8,185.2 480.5,185.6 481.2,186.0 481.9,186.4 482.6,186.7 483.3,187.1 484.0,187.5 484.7,187.9 485.4,188.3 486.1,188.7 486.8,189.0 487.5,189.4 488.2,189.8 488.9,190.2 489.6,190.6 490.3,191.0 491.0,191.4 491.7,191.8 492.4,192.1 493.1,192.5 493.8,192.9 494.5,193.3 495.2,193.6 495.9,194.0 496.6,194.4 497.3,194.7 498.0,195.1 498.7,195.4 499.4,195.7 500.1,196.1 500.8,196.4 501.5,196.7 502.2,197.0 502.9,197.3 503.6,197.6 504.3,197.9 505.0,198.2 505.7,198.4 506.4,198.7 507.1,198.9 507.8,199.2 508.5,199.4 509.2,199.6 509.9,199.8 510.6,200.0 511.3,200.2 512.0,200.4 512.7,200.6 513.4,200.7 514.1,200.9 514.8,201.0 515.5,201.2 516.2,201.3 516.9,201.4 517.6,201.5 518.3,201.6 519.0,201.7 519.7,201.8 520.4,201.8 521.1,201.9 521.8,201.9 522.5,202.0 523.2,202.0 523.9,202.0 524.6,202.0 525.3,202.0 526.0,202.0 526.7,202.0 527.4,202.0 528.1,201.9 528.8,201.9 529.5,201.8 530.2,201.7 530.9,201.7 531.6,201.6 532.3,201.5 533.0,201.3 533.7,201.2 534.4,201.1 535.1,200.9 535.8,200.8 536.5,200.6 537.2,200.5 537.9,200.3 538.6,200.1 539.3,199.9 540.0,199.7 540.7,199.4 541.4,199.2 542.1,199.0 542.8,198.7 543.5,198.5 544.2,198.2 544.9,198.0 545.6,197.7 546.3,197.4 547.0,197.1 547.7,196.8 548.4,196.5 549.1,196.2 549.8,195.9 550.5,195.5 551.2,195.2 551.9,194.9 552.6,194.5 553.3,194.2 554.0,193.8 554.7,193.5 555.4,193.1 556.1,192.7 556.8,192.4 557.5,192.0 558.2,191.6 558.9,191.2 559.6,190.8 560.3,190.4 561.0,190.0 561.7,189.6 562.4,189.2 563.1,188.8 563.8,188.4 564.5,187.9 565.2,187.5 565.9,187.1 566.6,186.7 567.3,186.2 568.0,185.8 568.7,185.3 569.4,184.9 570.1,184.5 570.8,184.0 571.5,183.6 572.2,183.1 572.9,182.7 573.6,182.2 574.3,181.8 575.0,181.3 575.7,180.9 576.4,180.4 577.1,180.0 577.8,179.5 578.5,179.1 579.2,178.6 579.9,178.2 580.6,177.7 581.3,177.3 582.0,176.8 582.7,176.4 583.4,175.9 584.1,175.5 584.8,175.0 585.5,174.6 586.2,174.2 586.9,173.7 587.6,173.3 588.3,172.9 589.0,172.4 589.7,172.0 590.4,171.6 591.1,171.1 591.8,170.7 592.5,170.3 593.2,169.9 593.9,169.5 594.6,169.1 595.3,168.7 596.0,168.3 596.7,167.9 597.4,167.5 598.1,167.1 598.8,166.7 599.5,166.4 600.2,166.0 600.9,165.6 601.6,165.3 602.3,164.9 603.0,164.6 603.7,164.2 604.4,163.9 605.1,163.6 605.8,163.2 606.5,162.9 607.2,162.6 607.9,162.3 608.6,162.0 609.3,161.7 610.0,161.4 610.7,161.2 611.4,160.9 612.1,160.6 612.8,160.4 613.5,160.2 614.2,159.9 614.9,159.7 615.6,159.5 616.3,159.3 617.0,159.2 617.7,159.0 618.4,158.9 619.1,158.7 619.8,158.6 620.5,158.5 621.2,158.4 621.9,158.4 622.6,158.3 623.3,158.3 624.0,158.3 624.7,158.3 625.4,158.4 626.1,158.4 626.8,158.5 627.5,158.6 628.2,158.8 628.9,158.9 629.6,159.1 630.3,159.3 631.0,159.5 631.7,159.8 632.4,160.1 633.1,160.4 633.8,160.7 634.5,161.1 635.2,161.5 635.9,161.9 636.6,162.4 637.3,162.9 638.0,163.4 638.7,164.0 639.4,164.5 640.1,165.1 640.8,165.7 641.5,166.4 642.2,167.0 642.9,167.7 643.6,168.4 644.3,169.0 645.0,169.8 645.7,170.5 646.4,171.2 647.1,171.9 647.8,172.7 648.5,173.4 649.2,174.2 649.9,175.0 650.6,175.7 651.3,176.5 652.0,177.2 652.7,178.0 653.4,178.7 654.1,179.5 654.8,180.2 655.5,180.9 656.2,181.7 656.9,182.4 657.6,183.1 658.3,183.8 659.0,184.4 659.7,185.1 660.4,185.7 661.1,186.3 661.8,186.9 662.5,187.5 663.2,188.0 663.9,188.5 664.6,189.0 665.3,189.5 666.0,190.0 666.7,190.4 667.4,190.8 668.1,191.2 668.8,191.6 669.5,191.9 670.2,192.2 670.9,192.5 671.6,192.8 672.3,193.0 673.0,193.2 673.7,193.4 674.4,193.6 675.1,193.7 675.8,193.8 676.5,193.9 677.2,194.0 677.9,194.1 678.6,194.1 679.3,194.1 680.0,194.0 680.7,194.0 681.4,193.9 682.1,193.8 682.8,193.6 683.5,193.5 684.2,193.3 684.9,193.1 685.6,192.8 686.3,192.6 687.0,192.3 687.7,192.0 688.4,191.6 689.1,191.2 689.8,190.8 690.5,190.4 691.2,190.0 691.9,189.5 692.6,189.0 693.3,188.4 694.0,187.9 694.7,187.3 695.4,186.6 696.1,186.0 696.8,185.3 697.5,184.6 698.2,183.9 698.9,183.1 699.6,182.3 700.3,181.5 701.0,180.6 701.7,179.8 702.4,178.9 703.1,178.0 703.8,177.0 704.5,176.1 705.2,175.1 705.9,174.1 706.6,173.0 707.3,172.0 708.0,170.9 708.7,169.8 709.4,168.7 710.1,167.6 710.8,166.5 711.5,165.3 712.2,164.2 712.9,163.0 713.6,161.8 714.3,160.6 715.0,159.3 715.7,158.1 716.4,156.8 717.1,155.6 717.8,154.3 718.5,153.0 719.2,151.7 719.9,150.4 720.6,149.1 721.3,147.8 722.0,146.5 722.7,145.1 723.4,143.8 724.1,142.4 724.8,141.1 725.5,139.7 726.2,138.4 726.9,137.0 727.6,135.7 728.3,134.3 729.0,132.9 729.7,131.6 730.4,130.2 731.1,128.8 731.8,127.5 732.5,126.1 733.2,124.8 733.9,123.4 734.6,122.1 735.3,120.7 736.0,119.4 736.7,118.0 737.4,116.7 738.1,115.4 738.8,114.1 739.5,112.8 740.2,111.5 740.9,110.2 741.6,108.9 742.3,107.7 743.0,106.4 743.7,105.2 744.4,103.9 745.1,102.7 745.8,101.5 746.5,100.3 747.2,99.2 747.9,98.0 748.6,96.9 749.3,95.7 750.0,94.6 750.7,93.5 751.4,92.5 752.1,91.4 752.8,90.4 753.5,89.4 753.5,89.4" fill="none" stroke="#3a3a3a" stroke-width="0.9" stroke-dasharray="1.1 1.6"/>
<polyline points="453.3,171.7 455.4,157.5 457.5,191.2 459.6,204.1 461.7,219.0 463.7,214.0 465.8,219.5 467.9,201.0 470.0,184.0 472.1,161.3 474.1,198.0 476.2,183.2 478.3,168.5 480.4,183.0 482.5,192.5 484.6,177.0 486.6,156.4 488.7,138.4 490.8,172.0 492.9,203.0 495.0,214.5 497.1,188.0 499.1,146.2 501.2,170.0 503.3,217.5 505.4,209.5 507.5,218.0 509.6,249.1 511.6,217.0 513.7,198.0 515.8,182.0 517.9,176.0 520.0,211.0 522.0,241.0 524.1,240.0 526.2,200.0 528.3,173.0 530.4,199.0 532.5,211.0 534.5,191.2 536.6,195.0 538.7,176.5 540.8,184.5 542.9,192.6 545.0,200.6 547.0,170.4 549.1,171.7 551.2,187.8 553.3,203.9 555.4,220.0 557.5,207.0 559.5,219.0 561.6,239.8 563.7,202.0 565.8,176.1 567.9,185.0 569.9,166.0 572.0,143.7 574.1,145.4 576.2,148.5 578.3,156.0 580.4,175.0 582.4,184.0 584.5,177.0 586.6,143.7 588.7,174.0 590.8,181.0 592.9,180.0 594.9,174.0 597.0,181.5 599.1,174.5 601.2,176.5 603.3,179.5 605.3,204.0 607.4,180.0 609.5,167.0 611.6,160.0 613.7,139.7 615.8,131.4 617.8,153.4 619.9,163.6 622.0,173.8 624.1,129.6 626.2,121.0 628.3,106.9 630.3,118.0 632.4,149.1 634.5,140.5 636.6,139.9 638.7,139.4 640.8,141.0 642.8,150.2 644.9,134.0 647.0,143.0 649.1,175.0 651.2,190.5 653.2,177.5 655.3,189.2 657.4,200.9 659.5,210.0 661.6,203.5 663.7,215.2 665.7,206.1 667.8,197.0 669.9,233.4 672.0,228.2 674.1,234.6 676.2,207.4 678.2,179.4 680.3,187.2 682.4,195.0 684.5,188.0 686.6,172.9 688.6,157.3 690.7,167.1 692.8,176.8 694.9,168.4 697.0,168.7 699.1,169.0 701.1,175.5 703.2,183.9 705.3,192.3 707.4,216.7 709.5,241.1 711.6,182.0 713.6,155.0 715.7,145.5 717.8,143.0 719.9,136.0 722.0,143.0 724.1,142.5 726.1,153.0 728.2,170.0 730.3,150.0 732.4,130.0 734.5,98.1 736.5,121.0 738.6,112.0 740.7,97.5 742.8,101.0 744.9,85.0 747.0,75.0 749.0,38.1 751.1,75.0 753.2,86.2" fill="none" stroke="#222" stroke-width="0.85" stroke-linejoin="round"/>
<text class="tt" x="436.4" y="12.7">(b)</text>
</g>
</svg>
</body></html>
